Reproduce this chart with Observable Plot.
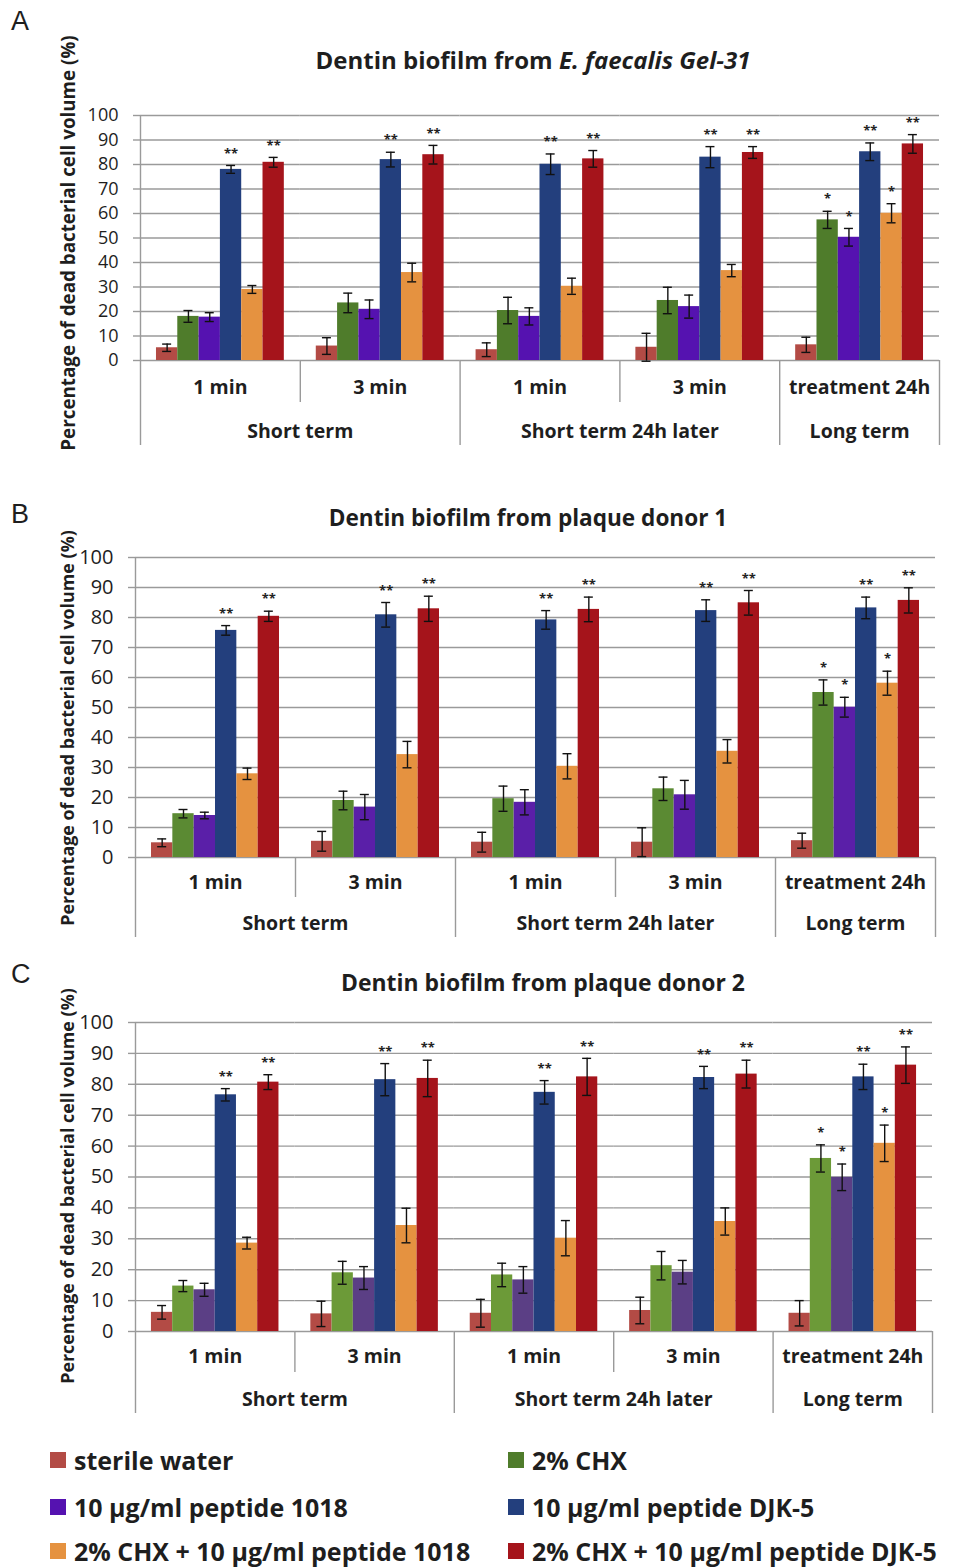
<!DOCTYPE html>
<html><head><meta charset="utf-8">
<script src="https://cdn.jsdelivr.net/npm/d3@7"></script>
<script src="https://cdn.jsdelivr.net/npm/@observablehq/plot@0.6"></script>
<style>
body{margin:0;background:#fff;}
#root{position:relative;width:957px;height:1567px;font-family:"Open Sans",sans-serif;color:#1e1e1e;overflow:hidden}
.abs{position:absolute;white-space:nowrap}
.letter{font-family:"Liberation Sans",Arial,sans-serif;font-size:27px;line-height:27px}
.title{font-weight:700;text-align:center;width:700px;line-height:28px}
.ylab{font-weight:700;text-align:center;transform:rotate(-90deg);line-height:22px}
.leg{font-weight:700;font-size:25px;line-height:27px;display:flex;align-items:center}
.sw{width:16px;height:16px;margin-right:8px;display:inline-block}
</style></head>
<body><div id="root"></div>
<script>
// ---------- data ----------
const treatments = ["sterile water","2% CHX","10 μg/ml peptide 1018","10 μg/ml peptide DJK-5","2% CHX + 10 μg/ml peptide 1018","2% CHX + 10 μg/ml peptide DJK-5"];
const groups = ["st-1","st-3","st24-1","st24-3","lt-24"];
const groupLabels = ["1 min","3 min","1 min","3 min","treatment 24h"];
const termLabels = ["Short term","Short term 24h later","Long term"];
const yTicks = [0,10,20,30,40,50,60,70,80,90,100];
const sigMarks = [
  ["","","","**","","**"],
  ["","","","**","","**"],
  ["","","","**","","**"],
  ["","","","**","","**"],
  ["","*","*","**","*","**"]
];
const valuesA = [
  [5.2,18.0,17.7,78.0,29.0,80.9],
  [5.9,23.5,20.9,82.0,35.9,84.0],
  [4.4,20.4,18.0,80.1,30.3,82.3],
  [5.4,24.5,22.0,83.0,36.7,84.9],
  [6.4,57.4,50.3,85.2,60.1,88.4]
];
const errorsA = [
  [1.5,2.4,1.8,1.6,1.6,2.0],
  [3.4,4.0,3.8,3.0,3.8,3.8],
  [2.8,5.4,3.5,4.2,3.3,3.4],
  [5.7,5.4,4.7,4.3,2.5,2.4],
  [3.1,3.5,3.6,3.6,3.9,3.8]
];
const valuesB = [
  [4.9,14.6,14.0,75.7,27.9,80.4],
  [5.4,19.0,16.8,80.9,34.3,82.9],
  [5.1,19.6,18.4,79.2,30.4,82.7],
  [5.1,22.9,20.9,82.3,35.4,84.9],
  [5.6,55.0,50.1,83.2,58.1,85.7]
];
const errorsB = [
  [1.3,1.4,1.1,1.6,1.9,1.7],
  [3.3,3.1,4.2,4.1,4.4,4.2],
  [3.3,4.2,4.2,3.1,4.2,4.1],
  [4.8,3.9,4.8,3.6,3.9,4.1],
  [2.5,4.2,3.3,3.6,4.0,4.2]
];
const valuesC = [
  [6.2,14.7,13.5,76.6,28.6,80.7],
  [5.7,19.0,17.3,81.5,34.3,81.9],
  [5.9,18.3,16.7,77.4,30.2,82.4],
  [6.8,21.3,19.2,82.2,35.6,83.3],
  [5.9,56.0,49.9,82.4,60.9,86.2]
];
const errorsC = [
  [2.2,1.8,2.1,2.0,1.9,2.4],
  [4.1,3.7,3.7,5.2,5.6,5.9],
  [4.5,3.8,4.3,3.8,5.7,6.0],
  [4.3,4.6,3.8,3.6,4.4,4.5],
  [4.1,4.4,4.3,4.1,5.9,5.9]
];
const colorsA = ["#b34b45","#4f7c2b","#5512b0","#233f7d","#e59240","#a5141b"];
const colorsB = ["#b34b45","#5b8a33","#5a1fa8","#233f7d","#e59240","#a5141b"];
const colorsC = ["#b34b45","#6c9a38","#5b3f85","#233f7d","#e59240","#a5141b"];

// ---------- layout ----------
const root = document.getElementById("root");
const gridColor = "#9a9a9a";

function addDiv(cls, html, css) {
  const d = document.createElement("div");
  d.className = "abs " + cls;
  d.innerHTML = html;
  Object.assign(d.style, css);
  root.appendChild(d);
  return d;
}

function panel(p) {
  const data = [];
  groups.forEach((g, gi) => treatments.forEach((t, ti) => data.push({
    group: g, treatment: t, value: p.values[gi][ti], err: p.errors[gi][ti], sig: sigMarks[gi][ti]
  })));
  const marginTop = 15, marginBottom = 100;
  const plotH = p.y0 - p.y100;
  const height = marginTop + plotH + marginBottom;
  const facetW = (p.right - p.left) / groups.length;
  const pad = 0.75;
  const step = facetW / (treatments.length + 2 * pad);
  const edge = step * (0.5 + pad);
  const cap = (step - 9) / 2;
  const fx = "group";
  const labelFont = 19.5;
  const chart = Plot.plot({
    width: 957, height,
    marginTop, marginBottom, marginLeft: p.left, marginRight: 957 - p.right,
    style: {fontFamily: "Open Sans", background: "transparent", overflow: "visible", color: "#1e1e1e"},
    fx: {domain: groups, padding: 0, round: false, axis: null},
    x: {domain: treatments, paddingInner: 0, paddingOuter: pad, round: false, axis: null},
    y: {domain: [0, 100]},
    color: {domain: treatments, range: p.colors},
    marks: [
      Plot.ruleY(yTicks, {stroke: gridColor, strokeWidth: 1.4}),
      Plot.axisY({ticks: yTicks, tickSize: 7, tickPadding: 15, fontSize: p.tickFont, stroke: gridColor, strokeWidth: 1.4, fill: "#1e1e1e", label: null}),
      Plot.barY(data, {fx, x: "treatment", y: "value", fill: "treatment"}),
      Plot.ruleX(data, {fx, x: "treatment", y1: d => d.value - d.err, y2: d => d.value + d.err, stroke: "#111", strokeWidth: 1.4}),
      Plot.tickY(data, {fx, x: "treatment", y: d => d.value + d.err, insetLeft: cap, insetRight: cap, stroke: "#111", strokeWidth: 1.4}),
      Plot.tickY(data, {fx, x: "treatment", y: d => d.value - d.err, insetLeft: cap, insetRight: cap, stroke: "#111", strokeWidth: 1.4}),
      Plot.text(data.filter(d => d.sig), {fx, x: "treatment", y: d => d.value + d.err, text: "sig", dy: -12, fontSize: 13, fontWeight: 700, fill: "#222"}),
      // y axis line (left edge, extended through category rows)
      Plot.ruleX([groups[0]], {fx: d => d, x: () => treatments[0], dx: -edge, insetBottom: -p.longSep, stroke: gridColor, strokeWidth: 1.4}),
      // category separators
      Plot.ruleX([groups[2], groups[4]], {fx: d => d, x: () => treatments[0], dx: -edge, insetTop: plotH, insetBottom: -p.longSep, stroke: gridColor, strokeWidth: 1.4}),
      Plot.ruleX([groups[4]], {fx: d => d, x: () => treatments[treatments.length - 1], dx: edge, insetTop: plotH, insetBottom: -p.longSep, stroke: gridColor, strokeWidth: 1.4}),
      Plot.ruleX([groups[1], groups[3]], {fx: d => d, x: () => treatments[0], dx: -edge, insetTop: plotH, insetBottom: -p.shortSep, stroke: gridColor, strokeWidth: 1.4}),
      // category labels
      Plot.text(groups, {fx: d => d, text: (d, i) => groupLabels[i], frameAnchor: "bottom", textAnchor: "middle", dy: p.row1, fontSize: labelFont, fontWeight: 700}),
      Plot.text([groups[0], groups[2]], {fx: d => d, text: (d, i) => termLabels[i], frameAnchor: "bottom-right", textAnchor: "middle", dy: p.row2, fontSize: labelFont, fontWeight: 700}),
      Plot.text([groups[4]], {fx: d => d, text: () => termLabels[2], frameAnchor: "bottom", textAnchor: "middle", dy: p.row2, fontSize: labelFont, fontWeight: 700})
    ]
  });
  const holder = addDiv("", "", {left: "0px", top: (p.y100 - marginTop) + "px"});
  holder.appendChild(chart);
  addDiv("letter", p.letter, {left: "11px", top: p.letterTop + "px"});
  addDiv("title", p.title, {left: (p.titleX - 350) + "px", top: (p.titleY - 14) + "px", fontSize: p.titleSize + "px"});
  const w = 460;
  addDiv("ylab", "Percentage of dead bacterial cell volume (%)", {left: (p.ylabX - w / 2) + "px", top: (p.ylabY - 11) + "px", width: w + "px", fontSize: p.ylabSize + "px"});
}

panel({letter: "A", letterTop: 8, title: "Dentin biofilm from <i>E. faecalis Gel-31</i>", titleX: 533, titleY: 60, titleSize: 24,
  values: valuesA, errors: errorsA, colors: colorsA, left: 140, right: 939, y100: 115, y0: 360, tickFont: 18,
  row1: 33, row2: 77, shortSep: 42, longSep: 85, ylabX: 68, ylabY: 243, ylabSize: 18.8});
panel({letter: "B", letterTop: 501, title: "Dentin biofilm from plaque donor 1", titleX: 528, titleY: 518, titleSize: 22.6,
  values: valuesB, errors: errorsB, colors: colorsB, left: 135, right: 935, y100: 557, y0: 857, tickFont: 20,
  row1: 31, row2: 72, shortSep: 40, longSep: 80, ylabX: 67, ylabY: 728, ylabSize: 17.9});
panel({letter: "C", letterTop: 961, title: "Dentin biofilm from plaque donor 2", titleX: 543, titleY: 983, titleSize: 22.9,
  values: valuesC, errors: errorsC, colors: colorsC, left: 135, right: 932, y100: 1022, y0: 1331, tickFont: 20,
  row1: 31, row2: 74, shortSep: 41, longSep: 82, ylabX: 67, ylabY: 1186, ylabSize: 17.9});

// ---------- legend ----------
const legendRows = [1460, 1507, 1551];
const legendCols = [50, 508];
treatments.forEach((t, i) => {
  const row = Math.floor(i / 2), col = i % 2;
  addDiv("leg", `<span class="sw" style="background:${colorsA[i]}"></span>${t}`,
    {left: legendCols[col] + "px", top: (legendRows[row] - 13.5) + "px"});
});
</script>
</body></html>
